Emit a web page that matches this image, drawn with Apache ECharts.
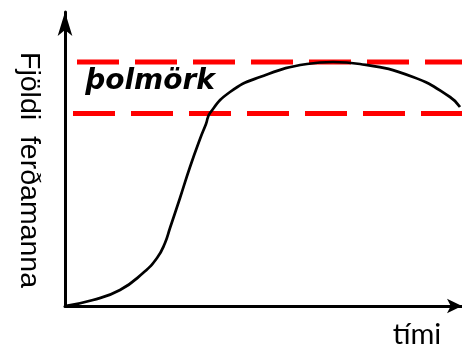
<!DOCTYPE html>
<html>
<head>
  <meta charset="utf-8">
  <script src="https://cdn.jsdelivr.net/npm/echarts@6.0.0/dist/echarts.min.js"></script>
  <style>
    html, body {margin: 0; padding: 0; background: #fff;}
    #chart {width: 462px; height: 348px;}
  </style>
</head>
<body>
<div id="chart"></div>
<script>
// ferill: fjöldi ferðamanna yfir tíma (ás í punktaeiningum, 0..397 x 0..294)
const curve_x = [0, 28, 55, 78, 92, 100, 105, 115, 125, 135, 141, 145, 165, 195, 242, 268, 295, 348, 385, 395];
const curve_y = [0, 6, 16, 33, 48, 63, 78, 108, 139, 167, 182, 193, 214, 229, 242, 244, 242, 229, 209, 199];

// þolmörk, efri og neðri lína
const limit_y = [244, 192.5];
const limit_start = [12, 8];
const limit_end = 397;

const label_y = 'Fjöldi  ferðamanna';
const label_x = 'tími';
const label_limit = 'þolmörk';

const chart = echarts.init(document.getElementById('chart'));

const limitSeries = limit_y.map((y, i) => ({
  type: 'line',
  data: [[limit_start[i], y], [limit_end, y]],
  symbol: 'none',
  silent: true,
  clip: false,
  lineStyle: {color: '#ff0000', width: 5, type: [42, 16], cap: 'butt'},
  z: 2
}));

const option = {
  animation: false,
  grid: {left: 65, right: 0, top: 12, bottom: 42},
  xAxis: {
    type: 'value',
    min: 0,
    max: 397,
    axisLine: {
      show: true,
      lineStyle: {color: '#000', width: 3},
      symbol: ['none', 'arrow'],
      symbolSize: [11, 15],
      symbolOffset: [0, 0]
    },
    axisTick: {show: false},
    axisLabel: {show: false},
    splitLine: {show: false}
  },
  yAxis: {
    type: 'value',
    min: 0,
    max: 294,
    axisLine: {
      show: true,
      lineStyle: {color: '#000', width: 3},
      symbol: ['none', 'arrow'],
      symbolSize: [11, 24],
      symbolOffset: [0, 0]
    },
    axisTick: {show: false},
    axisLabel: {show: false},
    splitLine: {show: false}
  },
  graphic: [
    {
      type: 'text',
      x: 29,
      y: 170,
      rotation: -Math.PI / 2,
      style: {
        text: label_y,
        fontFamily: '"Liberation Sans", Arial, sans-serif',
        fontSize: 28.5,
        fill: '#000',
        align: 'center',
        verticalAlign: 'middle'
      }
    },
    {
      type: 'text',
      x: 417,
      y: 335,
      style: {
        text: label_x,
        fontFamily: 'Lato, sans-serif',
        fontSize: 29,
        fill: '#000',
        align: 'center',
        verticalAlign: 'middle'
      }
    },
    {
      type: 'text',
      x: 150,
      y: 82,
      style: {
        text: label_limit,
        fontFamily: '"DejaVu Sans", sans-serif',
        fontWeight: 'bold',
        fontStyle: 'italic',
        fontSize: 28,
        fill: '#000',
        align: 'center',
        verticalAlign: 'middle'
      }
    }
  ],
  series: [
    ...limitSeries,
    {
      type: 'line',
      data: curve_x.map((x, i) => [x, curve_y[i]]),
      smooth: 0.5,
      symbol: 'none',
      clip: false,
      lineStyle: {color: '#000', width: 2.7},
      z: 3
    }
  ]
};

chart.setOption(option);
</script>
</body>
</html>
